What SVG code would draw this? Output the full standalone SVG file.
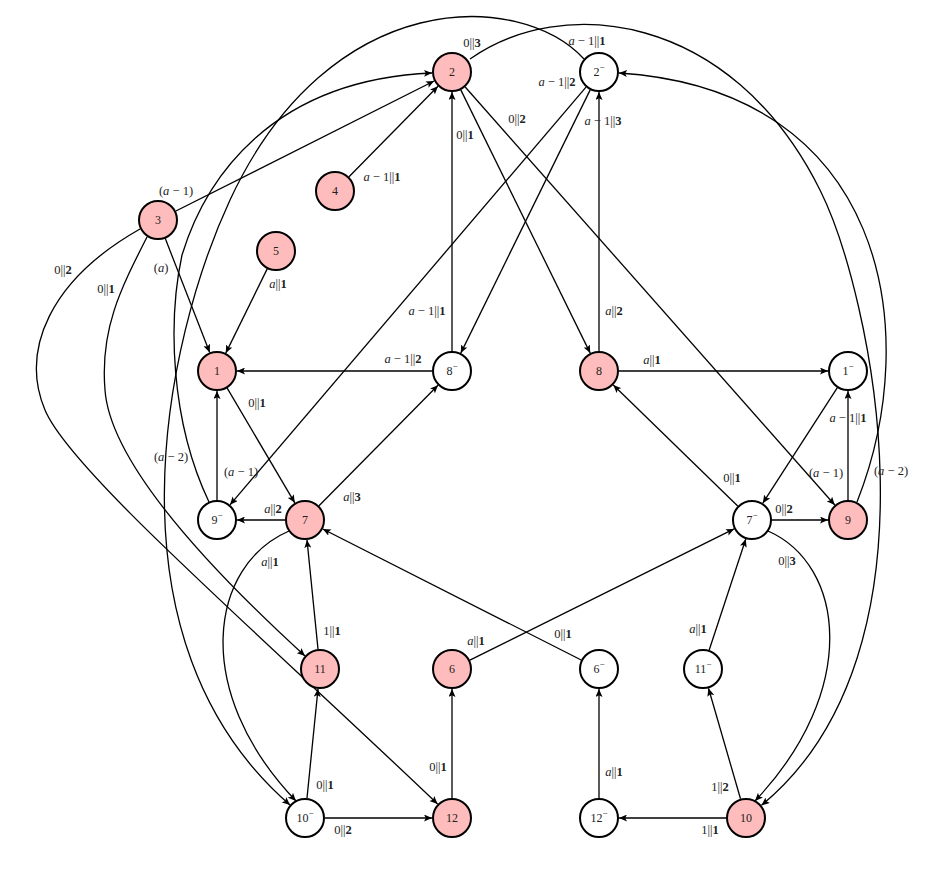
<svg xmlns="http://www.w3.org/2000/svg" width="926" height="872" viewBox="0 0 926 872">
<defs>
<style>
.n circle{stroke:#000;stroke-width:2;}
.p circle{fill:#ffbcbc;}
.w circle{fill:#fff;}
.n text{font-family:"Liberation Serif",serif;font-size:12px;text-anchor:middle;dominant-baseline:central;fill:#222;}
#edges path{fill:none;stroke:#000;stroke-width:1.3;marker-end:url(#ah);}
.lb{font-family:"Liberation Serif",serif;font-size:12.5px;text-anchor:middle;dominant-baseline:central;fill:#222;}
.i{font-style:italic;}
.b{font-weight:bold;}
.sup{font-size:9px;}
</style>
<marker id="ah" markerWidth="9" markerHeight="7" refX="8" refY="3.5" orient="auto" markerUnits="userSpaceOnUse">
<path d="M0,0 L8,3.5 L0,7 L1.8,3.5 z" fill="#000"/>
</marker>
</defs>
<rect width="926" height="872" fill="#fff"/>
<g id="edges">
<path d="M175.9,211 L434.1,81"/>
<path d="M349,176.7 L438,86.3"/>
<path d="M267.2,268.9 L225.8,353.1"/>
<path d="M165.3,238.6 L209.7,352.4"/>
<path d="M452,351 L452,92"/>
<path d="M460.8,89.9 L590.2,353.1"/>
<path d="M465.2,87 L834.8,505"/>
<path d="M586,87.2 L230,504.8"/>
<path d="M590.2,89.9 L460.8,353.1"/>
<path d="M599,351 L599,92"/>
<path d="M432,371 L237,371"/>
<path d="M619,371 L828,371"/>
<path d="M227.2,388.2 L294.8,502.8"/>
<path d="M217,500 L217,391"/>
<path d="M285,520 L237,520"/>
<path d="M319,505.8 L438,385.2"/>
<path d="M837.2,387.8 L762.8,503.2"/>
<path d="M848,500 L848,391"/>
<path d="M737.7,506 L613.3,385"/>
<path d="M772,520 L828,520"/>
<path d="M318,649.1 L307,539.9"/>
<path d="M469.9,660.1 L734.1,528.9"/>
<path d="M581.2,660 L322.8,529"/>
<path d="M709.2,650 L745.8,539"/>
<path d="M307,798.1 L318,688.9"/>
<path d="M325,818 L432,818"/>
<path d="M452,798 L452,689"/>
<path d="M599,798 L599,689"/>
<path d="M726,818 L619,818"/>
<path d="M740.5,798.8 L708.5,688.2"/>
<path d="M147,237 C120,290 100,330 105,390 C110,460 200,560 305,656"/>
<path d="M140,229 C50,280 20,350 45,410 C70,470 250,625 437.6,804"/>
<path d="M209,502 C170,420 168,320 182,255 C205,180 270,80 432,73"/>
<path d="M857,502 C925,330 885,90 619,73"/>
<path d="M584,59 C520,-10 330,-15 230,200 C165,340 100,640 290,805"/>
<path d="M470,59 C560,-5 730,10 820,190 C870,290 950,650 761.5,805.3"/>
<path d="M289,531 C210,565 190,690 296,801"/>
<path d="M768,531 C845,565 860,690 755,801"/>
</g>
<g id="n2" class="n p"><circle cx="452" cy="72" r="19"/><text x="452" y="72">2</text></g>
<g id="n2m" class="n w"><circle cx="599" cy="72" r="19"/><text x="599" y="72">2<tspan class="sup" dy="-5">−</tspan></text></g>
<g id="n4" class="n p"><circle cx="335" cy="191" r="19"/><text x="335" y="191">4</text></g>
<g id="n3" class="n p"><circle cx="158" cy="220" r="19"/><text x="158" y="220">3</text></g>
<g id="n5" class="n p"><circle cx="276" cy="251" r="19"/><text x="276" y="251">5</text></g>
<g id="n1" class="n p"><circle cx="217" cy="371" r="19"/><text x="217" y="371">1</text></g>
<g id="n8m" class="n w"><circle cx="452" cy="371" r="19"/><text x="452" y="371">8<tspan class="sup" dy="-5">−</tspan></text></g>
<g id="n8" class="n p"><circle cx="599" cy="371" r="19"/><text x="599" y="371">8</text></g>
<g id="n1m" class="n w"><circle cx="848" cy="371" r="19"/><text x="848" y="371">1<tspan class="sup" dy="-5">−</tspan></text></g>
<g id="n9m" class="n w"><circle cx="217" cy="520" r="19"/><text x="217" y="520">9<tspan class="sup" dy="-5">−</tspan></text></g>
<g id="n7" class="n p"><circle cx="305" cy="520" r="19"/><text x="305" y="520">7</text></g>
<g id="n7m" class="n w"><circle cx="752" cy="520" r="19"/><text x="752" y="520">7<tspan class="sup" dy="-5">−</tspan></text></g>
<g id="n9" class="n p"><circle cx="848" cy="520" r="19"/><text x="848" y="520">9</text></g>
<g id="n11" class="n p"><circle cx="320" cy="669" r="19"/><text x="320" y="669">11</text></g>
<g id="n6" class="n p"><circle cx="452" cy="669" r="19"/><text x="452" y="669">6</text></g>
<g id="n6m" class="n w"><circle cx="599" cy="669" r="19"/><text x="599" y="669">6<tspan class="sup" dy="-5">−</tspan></text></g>
<g id="n11m" class="n w"><circle cx="703" cy="669" r="19"/><text x="703" y="669">11<tspan class="sup" dy="-5">−</tspan></text></g>
<g id="n10m" class="n w"><circle cx="305" cy="818" r="19"/><text x="305" y="818">10<tspan class="sup" dy="-5">−</tspan></text></g>
<g id="n12" class="n p"><circle cx="452" cy="818" r="19"/><text x="452" y="818">12</text></g>
<g id="n12m" class="n w"><circle cx="599" cy="818" r="19"/><text x="599" y="818">12<tspan class="sup" dy="-5">−</tspan></text></g>
<g id="n10" class="n p"><circle cx="746" cy="818" r="19"/><text x="746" y="818">10</text></g>
<g id="labels">
<text class="lb" x="472" y="43">0||<tspan class="b">3</tspan></text>
<text class="lb" x="587" y="41"><tspan class="i">a</tspan> − 1||<tspan class="b">1</tspan></text>
<text class="lb" x="557" y="82"><tspan class="i">a</tspan> − 1||<tspan class="b">2</tspan></text>
<text class="lb" x="517" y="119">0||<tspan class="b">2</tspan></text>
<text class="lb" x="465" y="135">0||<tspan class="b">1</tspan></text>
<text class="lb" x="603" y="121"><tspan class="i">a</tspan> − 1||<tspan class="b">3</tspan></text>
<text class="lb" x="176" y="191">(<tspan class="i">a</tspan> − 1)</text>
<text class="lb" x="382" y="177"><tspan class="i">a</tspan> − 1||<tspan class="b">1</tspan></text>
<text class="lb" x="161" y="268">(<tspan class="i">a</tspan>)</text>
<text class="lb" x="278" y="284"><tspan class="i">a</tspan>||<tspan class="b">1</tspan></text>
<text class="lb" x="427" y="311"><tspan class="i">a</tspan> − 1||<tspan class="b">1</tspan></text>
<text class="lb" x="614" y="311"><tspan class="i">a</tspan>||<tspan class="b">2</tspan></text>
<text class="lb" x="403" y="359"><tspan class="i">a</tspan> − 1||<tspan class="b">2</tspan></text>
<text class="lb" x="257" y="403">0||<tspan class="b">1</tspan></text>
<text class="lb" x="171" y="457">(<tspan class="i">a</tspan> − 2)</text>
<text class="lb" x="241" y="472">(<tspan class="i">a</tspan> − 1)</text>
<text class="lb" x="273" y="509"><tspan class="i">a</tspan>||<tspan class="b">2</tspan></text>
<text class="lb" x="352" y="497"><tspan class="i">a</tspan>||<tspan class="b">3</tspan></text>
<text class="lb" x="652" y="360"><tspan class="i">a</tspan>||<tspan class="b">1</tspan></text>
<text class="lb" x="848" y="418"><tspan class="i">a</tspan> − 1||<tspan class="b">1</tspan></text>
<text class="lb" x="826" y="473">(<tspan class="i">a</tspan> − 1)</text>
<text class="lb" x="891" y="471">(<tspan class="i">a</tspan> − 2)</text>
<text class="lb" x="732" y="478">0||<tspan class="b">1</tspan></text>
<text class="lb" x="784" y="509">0||<tspan class="b">2</tspan></text>
<text class="lb" x="787" y="561">0||<tspan class="b">3</tspan></text>
<text class="lb" x="270" y="562"><tspan class="i">a</tspan>||<tspan class="b">1</tspan></text>
<text class="lb" x="332" y="631">1||<tspan class="b">1</tspan></text>
<text class="lb" x="476" y="641"><tspan class="i">a</tspan>||<tspan class="b">1</tspan></text>
<text class="lb" x="563" y="634">0||<tspan class="b">1</tspan></text>
<text class="lb" x="698" y="629"><tspan class="i">a</tspan>||<tspan class="b">1</tspan></text>
<text class="lb" x="325" y="785">0||<tspan class="b">1</tspan></text>
<text class="lb" x="343" y="830">0||<tspan class="b">2</tspan></text>
<text class="lb" x="438" y="767">0||<tspan class="b">1</tspan></text>
<text class="lb" x="614" y="772"><tspan class="i">a</tspan>||<tspan class="b">1</tspan></text>
<text class="lb" x="720" y="787">1||<tspan class="b">2</tspan></text>
<text class="lb" x="710" y="830">1||<tspan class="b">1</tspan></text>
<text class="lb" x="106" y="289">0||<tspan class="b">1</tspan></text>
<text class="lb" x="63" y="270">0||<tspan class="b">2</tspan></text>
</g>
</svg>
